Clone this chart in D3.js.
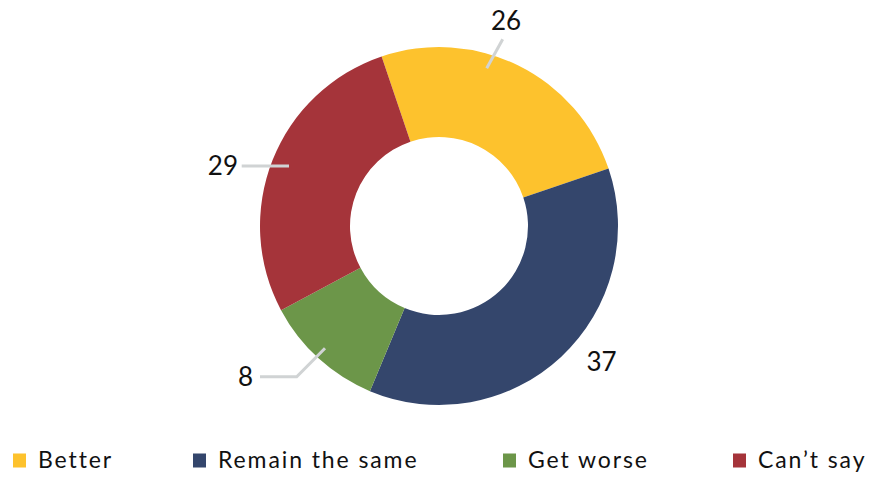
<!DOCTYPE html>
<html>
<head>
<meta charset="utf-8">
<script src="https://cdn.jsdelivr.net/npm/d3@7"></script>
<style>
  html, body { margin: 0; padding: 0; background: #ffffff; }
  svg { display: block; font-family: "Lato", "Open Sans", sans-serif; }
</style>
</head>
<body>
<svg id="chart" width="873" height="478"></svg>
<script>
// ---- data ----
const categories = ["Better", "Remain the same", "Get worse", "Can\u2019t say"];
const valueLabels = [26, 37, 8, 29];
// slice shares as drawn in the picture (per cent of the ring)
const sliceShares = [25, 36.5, 10.9, 27.6];
const colors = ["#FDC22D", "#34466C", "#6C9649", "#A5343A"];

// ---- layout ----
const svg = d3.select("#chart");
const cx = 439, cy = 226;
const outerR = 179, innerR = 89;
const startDeg = -18.7;

const pie = d3.pie()
  .sort(null)
  .value(d => d.share)
  .startAngle(startDeg * Math.PI / 180)
  .endAngle(startDeg * Math.PI / 180 + 2 * Math.PI);

const data = categories.map((c, i) => ({ cat: c, share: sliceShares[i], label: valueLabels[i], color: colors[i] }));
const arcs = pie(data);

const arc = d3.arc().innerRadius(innerR).outerRadius(outerR);

const g = svg.append("g").attr("transform", `translate(${cx},${cy})`);
g.selectAll("path.slice")
  .data(arcs)
  .join("path")
  .attr("class", "slice")
  .attr("d", arc)
  .attr("fill", d => d.data.color);

// ---- labels with leader lines (layout offsets from the ring centre) ----
const lineColor = "#D0D3D4";
const labelLayout = [
  { line: [[47.7, -157.7], [63.7, -186.7]], text: [67, -196], anchor: "middle" },
  { line: null, text: [162.5, 145], anchor: "middle" },
  { line: [[-114, 122.3], [-142.3, 150.7], [-179, 150.7]], text: [-186, 159.5], anchor: "end" },
  { line: [[-150, -60], [-197.3, -60]], text: [-201, -51], anchor: "end" }
];

labelLayout.forEach((L, i) => {
  if (L.line) {
    g.append("polyline")
      .attr("points", L.line.map(p => p.join(",")).join(" "))
      .attr("fill", "none")
      .attr("stroke", lineColor)
      .attr("stroke-width", 3);
  }
  g.append("text")
    .attr("x", L.text[0]).attr("y", L.text[1])
    .attr("text-anchor", L.anchor)
    .attr("font-size", 26).attr("fill", "#111")
    .text(arcs[i].data.label);
});

// ---- legend ----
const legendX = [13, 193, 503, 733];
const legendY = 461;
const lg = svg.append("g");
categories.forEach((c, i) => {
  const item = lg.append("g").attr("transform", `translate(${legendX[i]},${legendY})`);
  item.append("rect")
    .attr("x", 0).attr("y", -7.5).attr("width", 13).attr("height", 14)
    .attr("fill", colors[i]);
  item.append("text")
    .attr("x", 25).attr("y", 7)
    .attr("font-size", 23)
    .attr("letter-spacing", 1.9)
    .attr("fill", "#111")
    .text(c);
});
</script>
</body>
</html>
